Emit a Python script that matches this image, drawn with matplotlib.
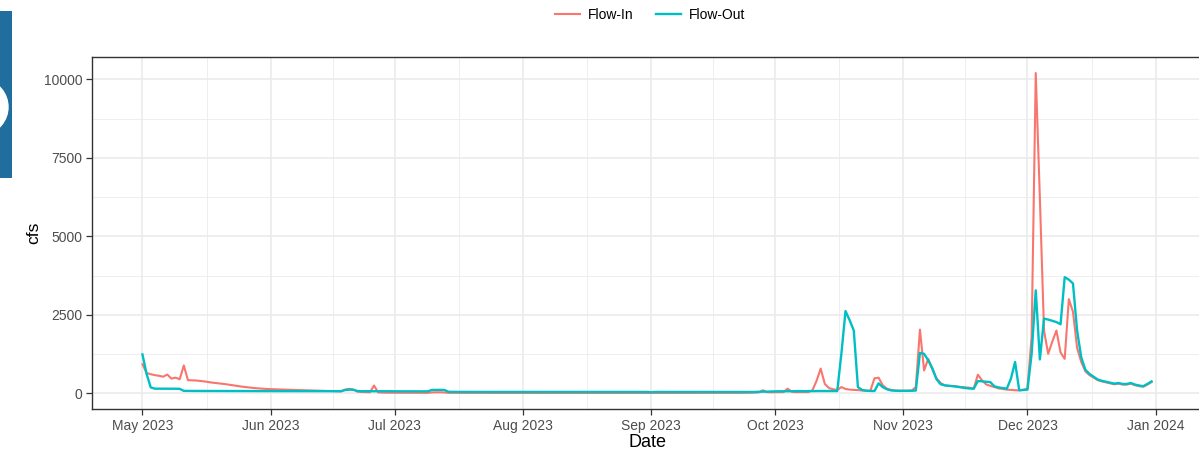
import numpy as np
import pandas as pd
import matplotlib
matplotlib.use("Agg")
import matplotlib.pyplot as plt
import matplotlib.dates as mdates
from matplotlib.lines import Line2D
from matplotlib.patches import Wedge

plt.rcParams["font.family"] = ["Liberation Sans", "DejaVu Sans"]

# daily mean flows (cfs), 2023-05-01 .. 2023-12-31
flow_in_may = [925, 650, 610, 580, 560, 530, 600, 470, 500, 450,
               890, 420, 415, 410, 395, 380, 360, 340, 325, 310,
               295, 275, 255, 235, 215, 200, 185, 170, 160, 150, 140]
flow_in_jun = [135, 130, 125, 120, 116, 112, 108, 104, 100, 96,
               92, 88, 84, 80, 76, 72, 68, 64, 120, 145,
               120, 55, 45, 40, 35, 250, 30, 25, 22, 20]
flow_in_jul = [20, 20, 19, 19, 18, 18, 18, 17, 17, 30,
               35, 35, 30, 16, 16, 15, 15, 15, 15, 15,
               14, 14, 14, 14, 14, 14, 13, 13, 13, 13, 13]
flow_in_aug = [13, 13, 12, 12, 12, 12, 12, 12, 12, 12,
               12, 12, 12, 12, 12, 12, 12, 12, 12, 12,
               12, 12, 12, 12, 12, 12, 12, 12, 12, 12, 12]
flow_in_sep = [12, 12, 12, 12, 12, 12, 12, 12, 12, 12,
               14, 14, 14, 14, 14, 14, 14, 15, 15, 15,
               15, 15, 16, 18, 20, 25, 30, 100, 40, 35]
flow_in_oct = [38, 40, 40, 150, 50, 40, 40, 40, 42, 100,
               400, 790, 300, 170, 130, 110, 200, 140, 120, 110,
               105, 90, 85, 80, 480, 500, 260, 150, 110, 90, 85]
flow_in_nov = [85, 85, 90, 200, 2030, 730, 1100, 760, 480, 330,
               255, 240, 230, 220, 200, 190, 180, 150, 595, 415,
               285, 240, 200, 160, 140, 120, 110, 100, 95, 110]
flow_in_dec = [150, 1800, 10200, 6200, 2000, 1260, 1650, 2000, 1300, 1100,
               3000, 2600, 1450, 1000, 700, 580, 500, 420, 380, 350,
               320, 290, 310, 280, 280, 310, 260, 230, 210, 280, 360]

flow_out_may = [1240, 620, 190, 150, 150, 150, 150, 148, 148, 145,
                80, 78, 78, 77, 77, 76, 76, 76, 75, 75,
                75, 75, 74, 74, 74, 74, 73, 73, 73, 73, 72]
flow_out_jun = [72, 72, 71, 71, 71, 70, 70, 70, 70, 70,
                70, 70, 70, 70, 70, 70, 70, 70, 105, 120,
                115, 75, 70, 70, 70, 70, 68, 68, 68, 68]
flow_out_jul = [66, 66, 66, 66, 65, 65, 65, 65, 65, 110,
                112, 112, 110, 50, 48, 47, 47, 46, 46, 46,
                46, 46, 45, 45, 45, 45, 45, 45, 45, 45, 45]
flow_out_aug = [46, 46, 45, 45, 45, 46, 46, 45, 45, 44,
                44, 45, 45, 46, 46, 45, 45, 44, 44, 45,
                45, 46, 46, 45, 45, 44, 44, 45, 45, 46, 46]
flow_out_sep = [35, 46, 46, 45, 45, 45, 46, 46, 45, 45,
                44, 44, 45, 45, 46, 46, 45, 45, 44, 44,
                45, 45, 46, 46, 45, 45, 50, 55, 55, 60]
flow_out_oct = [65, 65, 68, 70, 70, 70, 70, 72, 72, 72,
                75, 75, 75, 75, 75, 75, 1260, 2620, 2330, 2000,
                200, 110, 85, 78, 75, 320, 200, 130, 95, 85, 80]
flow_out_nov = [80, 80, 82, 90, 1290, 1260, 1050, 800, 450, 290,
                255, 240, 230, 210, 190, 170, 155, 150, 390, 385,
                370, 360, 225, 190, 170, 150, 470, 1000, 100, 110]
flow_out_dec = [120, 1250, 3280, 1080, 2380, 2350, 2310, 2270, 2200, 3700,
                3620, 3500, 2000, 1150, 750, 620, 530, 440, 400, 370,
                340, 310, 330, 300, 300, 330, 280, 250, 230, 300, 380]

flow_in = (flow_in_may + flow_in_jun + flow_in_jul + flow_in_aug
           + flow_in_sep + flow_in_oct + flow_in_nov + flow_in_dec)
flow_out = (flow_out_may + flow_out_jun + flow_out_jul + flow_out_aug
            + flow_out_sep + flow_out_oct + flow_out_nov + flow_out_dec)
dates = pd.date_range("2023-05-01", "2023-12-31", freq="D")

RED = "#F8766D"
TEAL = "#00BFC4"
GRID = "#EBEBEB"
DARK = "#333333"

fig = plt.figure(figsize=(11.99, 4.53), dpi=100)

# panel (right edge runs off the figure)
ax = fig.add_axes([92 / 1199, 44 / 453, 1110 / 1199, 352 / 453])
ax.plot(dates, flow_in, color=RED, lw=1.5, zorder=3)
ax.plot(dates, flow_out, color=TEAL, lw=1.7, zorder=4)

# ggplot-style 5% expansion
xn = mdates.date2num(dates)
xr = xn[-1] - xn[0]
xlim = (xn[0] - 0.05 * xr, xn[-1] + 0.05 * xr)
vals = np.array(flow_in + flow_out, dtype=float)
yr = vals.max() - vals.min()
ylim = (vals.min() - 0.05 * yr, vals.max() + 0.05 * yr)

major = mdates.date2num(pd.date_range("2023-04-01", "2024-02-01", freq="MS"))
minor = (major[:-1] + major[1:]) / 2
ax.set_xticks(major[(major >= xlim[0]) & (major <= xlim[1])])
ax.set_xticks(minor[(minor >= xlim[0]) & (minor <= xlim[1])], minor=True)
ax.xaxis.set_major_formatter(mdates.DateFormatter("%b %Y"))
ax.set_yticks([0, 2500, 5000, 7500, 10000])
ax.set_yticks([1250, 3750, 6250, 8750], minor=True)
ax.set_yticklabels(["0", "2500", "5000", "7500", "10000"])
ax.set_xlim(*xlim)
ax.set_ylim(*ylim)

ax.grid(which="major", color=GRID, lw=1.2, zorder=0)
ax.grid(which="minor", color=GRID, lw=0.6, zorder=0)
ax.set_axisbelow(True)

for side in ["left", "bottom", "top", "right"]:
    ax.spines[side].set_color(DARK)
    ax.spines[side].set_linewidth(1.0)

ax.tick_params(axis="both", which="major", length=4, width=0.9, color=DARK,
               labelsize=10, labelcolor="#4D4D4D", pad=3)
ax.tick_params(axis="both", which="minor", length=0)

ax.set_xlabel("Date", fontsize=13, labelpad=1)
ax.set_ylabel("cfs", fontsize=12.5, labelpad=2)

handles = [Line2D([], [], color=RED, lw=1.5), Line2D([], [], color=TEAL, lw=1.7)]
fig.legend(handles, ["Flow-In", "Flow-Out"], loc="center",
           bbox_to_anchor=(650 / 1199, 1 - 15 / 453), ncol=2, frameon=False,
           fontsize=10, handlelength=1.8, handletextpad=0.6, columnspacing=1.6)

# logo strip at the left edge
logo = fig.add_axes([0, 1 - 178 / 453, 12 / 1199, 167 / 453])
logo.set_facecolor("#1F6E9E")
logo.set_xticks([])
logo.set_yticks([])
for s in logo.spines.values():
    s.set_visible(False)
logo.set_xlim(0, 12)
logo.set_ylim(167, 0)
logo.add_patch(Wedge((-20, 96), 28, -80, 80, width=12, color="white",
                     clip_on=True))

fig.savefig("out.png", dpi=100)
